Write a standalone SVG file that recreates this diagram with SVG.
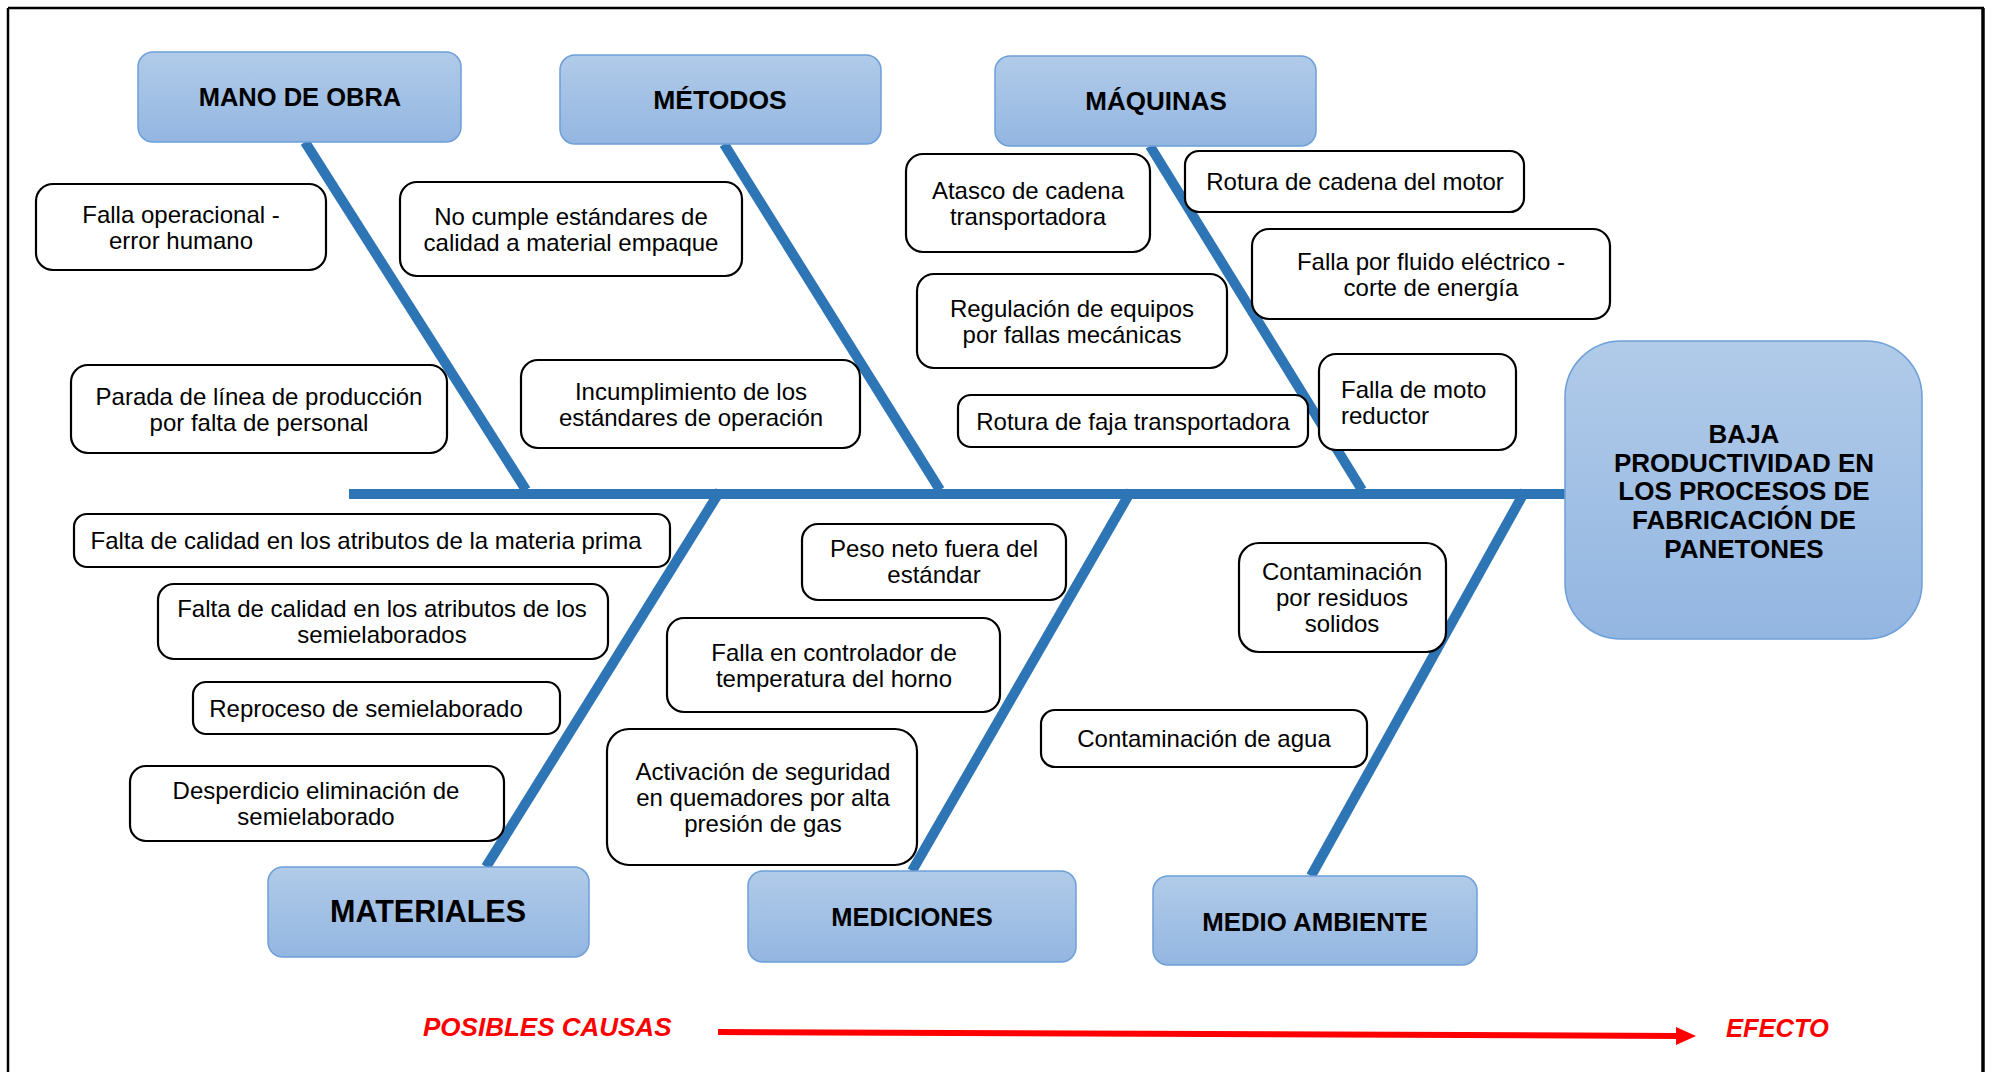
<svg xmlns="http://www.w3.org/2000/svg" width="1995" height="1072" viewBox="0 0 1995 1072">
<defs>
<linearGradient id="blue" x1="0" y1="0" x2="0" y2="1">
<stop offset="0" stop-color="#b1cbe9"/>
<stop offset="1" stop-color="#93b6e1"/>
</linearGradient>
</defs>
<style>
.cat{fill:url(#blue);stroke:#6d9fd8;stroke-width:1.5}
.ct{font-family:"Liberation Sans",Arial,sans-serif;font-weight:bold;fill:#000;text-anchor:middle}
.box{fill:#fff;stroke:#000;stroke-width:2.2}
.t{font-family:"Liberation Sans",Arial,sans-serif;font-size:24px;fill:#000;text-anchor:middle}
.bone{stroke:#2e75b6;stroke-width:10;fill:none}
.red{font-family:"Liberation Sans",Arial,sans-serif;font-weight:bold;font-style:italic;fill:#ff0000}
</style>
<rect width="1995" height="1072" fill="#fff"/>
<g id="frame" stroke="#000" fill="none">
<line x1="8" y1="8" x2="1984" y2="8" stroke-width="2.5"/>
<line x1="8" y1="8" x2="8" y2="1072" stroke-width="2.5"/>
<line x1="1983" y1="8" x2="1983" y2="1072" stroke-width="3.5"/>
</g>
<g id="connectors">
<line class="bone" x1="349" y1="494" x2="1566" y2="494"/>
<line class="bone" x1="305" y1="142" x2="526" y2="490"/>
<line class="bone" x1="724" y1="144" x2="940" y2="490"/>
<line class="bone" x1="1150" y1="146" x2="1362" y2="490"/>
<line class="bone" x1="720" y1="491" x2="486" y2="867"/>
<line class="bone" x1="1131" y1="491" x2="912" y2="871"/>
<line class="bone" x1="1525" y1="491" x2="1311" y2="876"/>
</g>
<g id="mano-de-obra">
<rect class="cat" x="138" y="52" width="323" height="90" rx="15"/>
<text class="ct" x="300" y="106" font-size="25.5">MANO DE OBRA</text>
</g>
<g id="metodos">
<rect class="cat" x="560" y="55" width="321" height="89" rx="15"/>
<text class="ct" x="720" y="109" font-size="26.5">MÉTODOS</text>
</g>
<g id="maquinas">
<rect class="cat" x="995" y="56" width="321" height="90" rx="15"/>
<text class="ct" x="1156" y="110" font-size="26">MÁQUINAS</text>
</g>
<g id="materiales">
<rect class="cat" x="268" y="867" width="321" height="90" rx="15"/>
<text class="ct" x="428" y="922" font-size="30.5">MATERIALES</text>
</g>
<g id="mediciones">
<rect class="cat" x="748" y="871" width="328" height="91" rx="15"/>
<text class="ct" x="912" y="926" font-size="25.5">MEDICIONES</text>
</g>
<g id="medio-ambiente">
<rect class="cat" x="1153" y="876" width="324" height="89" rx="15"/>
<text class="ct" x="1315" y="931" font-size="25.8">MEDIO AMBIENTE</text>
</g>
<g id="efecto">
<rect class="cat" x="1565" y="341" width="357" height="298" rx="56"/>
<text class="ct" font-size="26"><tspan x="1744" y="443">BAJA</tspan><tspan x="1744" y="472">PRODUCTIVIDAD  EN</tspan><tspan x="1744" y="500">LOS PROCESOS DE</tspan><tspan x="1744" y="529">FABRICACIÓN  DE</tspan><tspan x="1744" y="558">PANETONES</tspan></text>
</g>
<g id="c1">
<rect class="box" x="36" y="184" width="290" height="86" rx="17"/>
<text class="t"><tspan x="181" y="223">Falla operacional -</tspan><tspan x="181" y="249">error humano</tspan></text>
</g>
<g id="c2">
<rect class="box" x="400" y="182" width="342" height="94" rx="17"/>
<text class="t"><tspan x="571" y="225">No cumple estándares de</tspan><tspan x="571" y="251">calidad a material empaque</tspan></text>
</g>
<g id="c3">
<rect class="box" x="71" y="365" width="376" height="88" rx="17"/>
<text class="t"><tspan x="259" y="405">Parada de línea de producción</tspan><tspan x="259" y="431">por falta de personal</tspan></text>
</g>
<g id="c4">
<rect class="box" x="521" y="360" width="339" height="88" rx="17"/>
<text class="t"><tspan x="691" y="400">Incumplimiento  de los</tspan><tspan x="691" y="426">estándares de operación</tspan></text>
</g>
<g id="c5">
<rect class="box" x="906" y="154" width="244" height="98" rx="17"/>
<text class="t"><tspan x="1028" y="199">Atasco de cadena</tspan><tspan x="1028" y="225">transportadora</tspan></text>
</g>
<g id="c6">
<rect class="box" x="1185" y="151" width="339" height="61" rx="14"/>
<text class="t" x="1355" y="190">Rotura de cadena del motor</text>
</g>
<g id="c7">
<rect class="box" x="917" y="274" width="310" height="94" rx="17"/>
<text class="t"><tspan x="1072" y="317">Regulación de equipos</tspan><tspan x="1072" y="343">por fallas mecánicas</tspan></text>
</g>
<g id="c8">
<rect class="box" x="1252" y="229" width="358" height="90" rx="17"/>
<text class="t"><tspan x="1431" y="270">Falla por fluido eléctrico -</tspan><tspan x="1431" y="296">corte de energía</tspan></text>
</g>
<g id="c9">
<rect class="box" x="958" y="395" width="350" height="52" rx="13"/>
<text class="t" x="1133" y="430">Rotura de faja transportadora</text>
</g>
<g id="c10">
<rect class="box" x="1319" y="354" width="197" height="96" rx="17"/>
<text class="t" style="text-anchor:start"><tspan x="1341" y="398">Falla de moto</tspan><tspan x="1341" y="424">reductor</tspan></text>
</g>
<g id="c11">
<rect class="box" x="74" y="514" width="596" height="53" rx="13"/>
<text class="t" x="366" y="549">Falta de calidad en los atributos de la materia prima</text>
</g>
<g id="c12">
<rect class="box" x="158" y="584" width="450" height="75" rx="16"/>
<text class="t"><tspan x="382" y="617">Falta de calidad en los atributos de los</tspan><tspan x="382" y="643">semielaborados</tspan></text>
</g>
<g id="c13">
<rect class="box" x="193" y="682" width="367" height="52" rx="13"/>
<text class="t" x="366" y="717">Reproceso de semielaborado</text>
</g>
<g id="c14">
<rect class="box" x="130" y="766" width="374" height="75" rx="16"/>
<text class="t"><tspan x="316" y="799">Desperdicio eliminación de</tspan><tspan x="316" y="825">semielaborado</tspan></text>
</g>
<g id="c15">
<rect class="box" x="802" y="524" width="264" height="76" rx="16"/>
<text class="t"><tspan x="934" y="557">Peso neto fuera del</tspan><tspan x="934" y="583">estándar</tspan></text>
</g>
<g id="c16">
<rect class="box" x="667" y="618" width="333" height="94" rx="17"/>
<text class="t"><tspan x="834" y="661">Falla en controlador de</tspan><tspan x="834" y="687">temperatura del horno</tspan></text>
</g>
<g id="c17">
<rect class="box" x="607" y="729" width="310" height="136" rx="22"/>
<text class="t"><tspan x="763" y="780">Activación de seguridad</tspan><tspan x="763" y="806">en quemadores por alta</tspan><tspan x="763" y="832">presión de gas</tspan></text>
</g>
<g id="c18">
<rect class="box" x="1239" y="543" width="207" height="109" rx="20"/>
<text class="t"><tspan x="1342" y="580">Contaminación</tspan><tspan x="1342" y="606">por residuos</tspan><tspan x="1342" y="632">solidos</tspan></text>
</g>
<g id="c19">
<rect class="box" x="1041" y="710" width="326" height="57" rx="14"/>
<text class="t" x="1204" y="747">Contaminación de agua</text>
</g>
<g id="legend">
<text class="red" x="423" y="1036" font-size="26">POSIBLES CAUSAS</text>
<line x1="718" y1="1032" x2="1680" y2="1036" stroke="#ff0000" stroke-width="6"/>
<polygon points="1676,1027 1696,1036 1676,1045" fill="#ff0000"/>
<text class="red" x="1726" y="1037" font-size="25.5">EFECTO</text>
</g>
</svg>
